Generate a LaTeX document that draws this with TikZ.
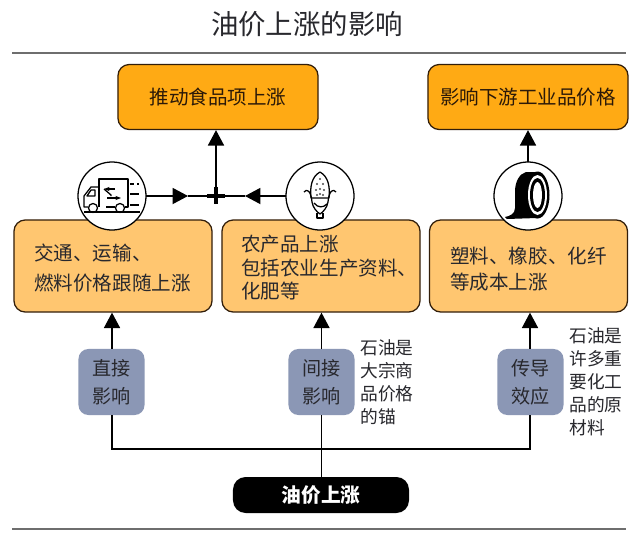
\documentclass[tikz,border=0pt]{standalone}
\usepackage{fontspec}
\setmainfont{Noto Sans CJK SC}
\usetikzlibrary{positioning, calc, arrows.meta}
\definecolor{darkbrown}{RGB}{50, 30, 10}
\definecolor{deeporange}{RGB}{255, 170, 20}
\definecolor{lightorange}{RGB}{255, 198, 112}
\definecolor{slateblue}{RGB}{139, 151, 181}
\definecolor{inkgray}{RGB}{40, 40, 45}
\definecolor{rulegray}{RGB}{110, 110, 110}

\begin{document}
\begin{tikzpicture}[
    x=0.025cm, y=-0.025cm,
    resultbox/.style={draw=darkbrown, fill=deeporange, rounded corners=8pt, line width=0.9pt, minimum width=5cm, minimum height=1.625cm, inner sep=0pt, text=darkbrown!85!black, font=\fontsize{13.9}{16.7}\selectfont},
    costbox/.style={draw=darkbrown, fill=lightorange, rounded corners=8pt, line width=0.9pt, minimum width=4.95cm, minimum height=2.3cm, inner sep=0pt},
    costtext/.style={anchor=west, align=left, inner sep=0pt, text=inkgray, font=\fontsize{13.9}{16.7}\selectfont},
    channelbox/.style={fill=slateblue, rounded corners=7pt, minimum width=1.65cm, minimum height=1.65cm, align=center, inner sep=0pt, text=inkgray, font=\fontsize{13.6}{20}\selectfont},
    sourcebox/.style={fill=black, rounded corners=9pt, minimum width=4.4cm, minimum height=0.9cm, inner sep=0pt, text=white, font=\fontsize{14}{16}\selectfont\bfseries},
    notetext/.style={anchor=north west, align=left, inner sep=0pt, text=inkgray, font=\fontsize{12.6}{16.5}\selectfont},
    iconcircle/.style={circle, draw=black, fill=white, line width=0.9pt, minimum size=1.7cm, inner sep=0pt},
    link/.style={draw=black, line width=0.9pt},
    linkhead/.style={link, -{Triangle[length=11pt, width=11.5pt]}},
    rulerline/.style={draw=rulegray, line width=0.8pt}
]
    \useasboundingbox (0, 0) rectangle (640, 534);
    \fill[white] (0, 0) rectangle (640, 534);

    % title and rules
    \node[inner sep=0pt, text=inkgray, font=\fontsize{19.5}{22}\selectfont] (title) at (307, 24) {油价上涨的影响};
    \coordinate (ruleTL) at (12, 53);
    \coordinate (ruleTR) at (626, 53);
    \coordinate (ruleBL) at (12, 529);
    \coordinate (ruleBR) at (626, 529);
    \draw[rulerline] (ruleTL) -- (ruleTR);
    \draw[rulerline] (ruleBL) -- (ruleBR);

    % --- top row ---
    \node[resultbox] (food) at (218, 97) {推动食品项上涨};
    \node[resultbox] (industry) at (528, 97) {影响下游工业品价格};

    % --- middle row ---
    \node[costbox] (transport) at (113, 266) {};
    \node[costbox] (farm) at (321, 266) {};
    \node[costbox] (plastic) at (528.5, 266) {};
    \node[costtext] (transporttext) at (34, 268) {交通、运输、\\[4.5pt]燃料价格跟随上涨};
    \node[costtext] (farmtext) at (241, 268) {农产品上涨\\包括农业生产资料、\\化肥等};
    \node[costtext] (plastictext) at (450, 269) {塑料、橡胶、化纤\\[2pt]等成本上涨};

    % --- channels ---
    \node[channelbox] (direct) at (111.5, 382) {直接\\影响};
    \node[channelbox] (indirect) at (321.5, 382) {间接\\影响};
    \node[channelbox] (transmit) at (530.5, 382) {传导\\效应};
    \node[notetext] (anchornote) at (360, 339) {石油是\\大宗商\\品价格\\的锚};
    \node[notetext] (materialnote) at (569, 327) {石油是\\许多重\\要化工\\品的原\\材料};
    \node[sourcebox] (oil) at (321, 495) {油价上涨};

    % --- connectors ---
    \coordinate (hub) at (216, 196);
    \coordinate (hubtick) at (216, 204);
    \coordinate (hubL) at (207, 196);
    \coordinate (hubR) at (225, 196);
    \coordinate (tipL) at (188, 196);
    \coordinate (tipR) at (245, 196);
    \coordinate (busL) at (112, 449);
    \coordinate (busM) at (321.5, 449);
    \coordinate (busR) at (530, 449);

    \draw[linkhead] (112, 196) -- (tipL);
    \draw[link] (tipL) -- (hub);
    \draw[linkhead] (320, 196) -- (tipR);
    \draw[link] (tipR) -- (hub);
    \draw[linkhead] (hubtick) -- (hubtick |- food.south);
    \draw[black, line width=2.2pt] (hubL) -- (hubR);
    \draw[black, line width=2.2pt] (216, 187) -- (hubtick);
    \draw[linkhead] (528, 196) -- (industry.south);

    \draw[linkhead] (direct.north -| busL) -- (transport.south -| busL);
    \draw[linkhead] (indirect.north -| busM) -- (farm.south -| busM);
    \draw[linkhead] (transmit.north -| busR) -- (plastic.south -| busR);
    \draw[link] (direct.south -| busL) -- (busL) -- (busR) -- (transmit.south -| busR);
    \draw[link] (indirect.south -| busM) -- (oil.north -| busM);

    % --- icons ---
    \node[iconcircle] (truck) at (112, 196) {};
    \node[iconcircle] (corn) at (320, 196) {};
    \node[iconcircle] (tire) at (528, 196) {};

    % truck
    \begin{scope}[shift={(truck.center)}, line width=0.9pt, line join=round]
        \draw (-13, 11) -- (-13, -17) -- (16, -17) -- (16, 11) -- (13, 11);
        \draw (3, 11) -- (-6, 11);
        \draw (-13, -9) -- (-21, -9) -- (-28, 0) -- (-28, 11) -- (-24, 11);
        \draw (-25, 0) -- (-21, -6) -- (-17, -6) -- (-17, 0) -- cycle;
        \draw (-19, 12) circle (4.5);
        \draw (8, 12) circle (4.5);
        \draw[-{Stealth[length=4pt]}] (3, -7) -- (-8, -7);
        \draw (-8, -7) -- (-1, -1) -- (-1, 0);
        \draw[-{Stealth[length=4pt]}] (-5, 2) -- (9, 2);
        \draw (-28, 16) -- (28, 16);
        \draw (18, -12) -- (22, -12);
        \draw[line width=1.1pt] (25, -12) -- (27, -12);
        \draw (18, -2) -- (27, -2);
        \draw (18, 9) -- (27, 9);
    \end{scope}

    % corn
    \begin{scope}[shift={(corn.center)}, line width=0.9pt, line join=round]
        \draw (0, -24) .. controls (-9, -19) and (-10, -8) .. (-9, 2) -- (9, 2) .. controls (10, -8) and (9, -19) .. (0, -24);
        \foreach \dotx/\doty in {0/-17, -3/-12, 3/-12, 0/-7, -4/-6, 4/-6, -3/-1, 3/-1, 0/-2}
            \fill[black!70] (\dotx, \doty) circle (1.2);
        \draw (-16, -4) .. controls (-13, -8) and (-9, -5) .. (-8, 6) .. controls (-7, 12) and (-3, 16) .. (0, 18) .. controls (3, 16) and (7, 12) .. (8, 6) .. controls (9, -5) and (13, -8) .. (16, -4);
        \draw (-6, 7) .. controls (-2, 12) and (3, 12) .. (7, 8);
        \draw (-3, 17) -- (-3, 22) -- (3, 22) -- (3, 17);
    \end{scope}

    % tire
    \begin{scope}[shift={(tire.center)}]
        \fill[black] (9, -24) -- (-2, -24) .. controls (-9, -22) and (-13, -14) .. (-13, -4) -- (-13, 12) .. controls (-13, 18) and (-18, 20) .. (-23, 21) -- (-21, 23) -- (9, 22) -- cycle;
        \fill[black] (9.5, -1) ellipse (12 and 23.5);
        \fill[white] (9.5, -1) ellipse (9.5 and 20);
        \fill[black] (9.5, -1) ellipse (7.5 and 17);
        \fill[white] (9.5, -1) ellipse (4.5 and 13);
    \end{scope}
\end{tikzpicture}
\end{document}
